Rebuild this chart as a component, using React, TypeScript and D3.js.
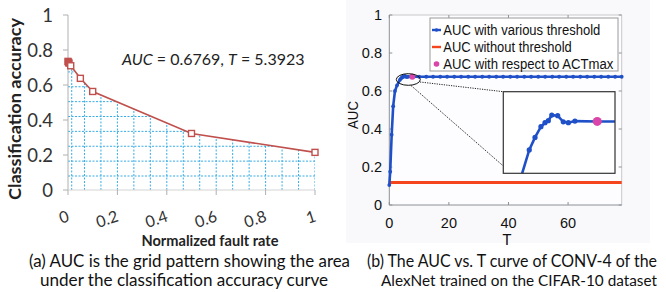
import React from "react";
import * as d3 from "d3";

// ---- panel (a): accuracy vs normalized fault rate ----
const faultRate = [0, 0.002, 0.004, 0.011, 0.05, 0.1, 0.5, 1];
const accuracy = [0.735, 0.73, 0.725, 0.71, 0.638, 0.563, 0.323, 0.215];
const accTicks = [0, 0.2, 0.4, 0.6, 0.8, 1];
const accTickLabels = ["0", "0.2", "0.4", "0.6", "0.8", "1"];
const faultTicks = [0, 0.2, 0.4, 0.6, 0.8, 1];
const faultTickLabels = ["0", "0.2", "0.4", "0.6", "0.8", "1"];

// ---- panel (b): AUC vs T ----
const tValues = [
  0, 0.3, 0.8, 1.3, 1.9, 2.6, 3.58, 3.93, 4.29, 4.54, 4.74, 4.95, 5.31, 5.65,
  5.96, 6.36, 7.72, 10, 12.4, 14.7, 17.1, 19.4, 21.8, 24.1, 26.5, 28.8, 31.2,
  33.5, 35.9, 38.2, 40.6, 42.9, 45.3, 47.6, 50, 52.3, 54.7, 57, 59.4, 61.7,
  64.1, 66.4, 68.8, 71.1, 73.5, 75.8, 78,
];
const aucValues = [
  0.105, 0.175, 0.37, 0.52, 0.6, 0.63, 0.6593, 0.6662, 0.6721, 0.6743, 0.6754,
  0.6785, 0.6782, 0.6748, 0.6743, 0.6752, 0.675, 0.675, 0.675, 0.675, 0.675,
  0.675, 0.675, 0.675, 0.675, 0.675, 0.675, 0.675, 0.675, 0.675, 0.675, 0.675,
  0.675, 0.675, 0.675, 0.675, 0.675, 0.675, 0.675, 0.675, 0.675, 0.675, 0.675,
  0.675, 0.675, 0.675, 0.675,
];
const aucNoThreshold = 0.118;
const actMaxT = 7.72;
const actMaxAuc = 0.675;
const aucTicks = [0, 0.2, 0.4, 0.6, 0.8, 1];
const aucTickLabels = ["0", "0.2", "0.4", "0.6", "0.8", "1"];
const tTicks = [0, 20, 40, 60];
const legendLabels = [
  "AUC with various threshold",
  "AUC without threshold",
  "AUC with respect to ACTmax",
];

const BLUE = "#1f50c8";
const RED = "#f4451f";
const MAGENTA = "#d945a8";
const ACC_RED = "#c0504d";
const GRID = "#35ade6";
const CALIBRI = "Lato, 'Open Sans', sans-serif";
const HELV = "'Liberation Sans', Arial, sans-serif";

function PanelA() {
  const x = d3.scaleLinear().domain([0, 1]).range([68, 315]);
  const y = d3.scaleLinear().domain([0, 1]).range([190, 15]);
  const pts = faultRate.map((f, i) => [f, accuracy[i]] as [number, number]);
  const line = d3
    .line<[number, number]>()
    .x((d) => x(d[0]))
    .y((d) => y(d[1]));
  const area = d3
    .area<[number, number]>()
    .x((d) => x(d[0]))
    .y0(y(0))
    .y1((d) => y(d[1]));
  const gridX = d3.range(1, 16).map((k) => k / 15);
  gridX.unshift(0.015);
  const gridY = d3.range(0.08, 0.7, 0.085);

  return (
    <g>
      <clipPath id="underCurve">
        <path d={area(pts) || ""} />
      </clipPath>
      <g clipPath="url(#underCurve)">
        {gridX.map((g) => (
          <line
            key={"gx" + g}
            x1={x(g)}
            x2={x(g)}
            y1={y(0)}
            y2={y(1)}
            stroke={GRID}
            strokeWidth={1}
            strokeDasharray="2,1.5"
          />
        ))}
        {gridY.map((g) => (
          <line
            key={"gy" + g}
            x1={x(0)}
            x2={x(1)}
            y1={y(g)}
            y2={y(g)}
            stroke={GRID}
            strokeWidth={1}
            strokeDasharray="2,1.5"
          />
        ))}
      </g>

      {/* axes */}
      <line x1={x(0)} x2={x(0)} y1={y(0)} y2={y(1)} stroke="#b0b0b0" />
      <line x1={x(0)} x2={x(1)} y1={y(0)} y2={y(0)} stroke="#d4d4d4" />
      {accTicks.map((t, i) => (
        <g key={"ya" + t}>
          <line x1={x(0) - 5} x2={x(0)} y1={y(t)} y2={y(t)} stroke="#b0b0b0" />
          <text
            x={53}
            y={y(t)}
            dy="0.36em"
            textAnchor="end"
            fontFamily={CALIBRI}
            fontSize={18.5}
            fill="#333"
          >
            {accTickLabels[i]}
          </text>
        </g>
      ))}
      {faultTicks.map((t, i) => (
        <g key={"xa" + t}>
          <line x1={x(t)} x2={x(t)} y1={y(0)} y2={y(0) + 5} stroke="#b0b0b0" />
          <text
            transform={`translate(${x(t) + 2},${221}) rotate(-18)`}
            textAnchor="end"
            fontFamily={CALIBRI}
            fontSize={16}
            fill="#333"
          >
            {faultTickLabels[i]}
          </text>
        </g>
      ))}

      <path d={line(pts) || ""} fill="none" stroke={ACC_RED} strokeWidth={1.6} />
      {pts.map((d, i) => (
        <rect
          key={"m" + i}
          x={x(d[0]) - 3}
          y={y(d[1]) - 3}
          width={6}
          height={6}
          fill={i < 3 ? ACC_RED : "#fff"}
          stroke={ACC_RED}
          strokeWidth={1.4}
        />
      ))}

      <text x={122} y={65} fontFamily={CALIBRI} fontSize={16} fill="#222">
        <tspan fontStyle="italic">AUC</tspan>
        <tspan> = 0.6769, </tspan>
        <tspan fontStyle="italic">T</tspan>
        <tspan> = 5.3923</tspan>
      </text>

      <text
        transform="translate(21,109) rotate(-90)"
        textAnchor="middle"
        fontFamily={CALIBRI}
        fontWeight="bold"
        fontSize={17}
        fill="#222"
        textLength={182}
        lengthAdjust="spacingAndGlyphs"
      >
        Classification accuracy
      </text>
      <text
        x={141.5}
        y={246}
        fontFamily={CALIBRI}
        fontWeight="bold"
        fontSize={14.5}
        fill="#222"
        textLength={137}
        lengthAdjust="spacingAndGlyphs"
      >
        Normalized fault rate
      </text>
    </g>
  );
}

function PanelB() {
  const x = d3.scaleLinear().domain([0, 78]).range([389.3, 621.7]);
  const y = d3.scaleLinear().domain([0, 1]).range([205, 15]);
  const pts = tValues.map((t, i) => [t, aucValues[i]] as [number, number]);
  const line = d3
    .line<[number, number]>()
    .x((d) => x(d[0]))
    .y((d) => y(d[1]));

  // inset zoom of the peak
  const ix = d3.scaleLinear().domain([2, 8.8]).range([503.3, 615]);
  const iy = d3.scaleLinear().domain([0.6464, 0.6914]).range([173.3, 91.7]);
  const insetLine = d3
    .line<[number, number]>()
    .x((d) => ix(d[0]))
    .y((d) => iy(d[1]));
  const insetPts = pts.filter((d) => d[0] >= 2.6 && d[0] <= 10);

  const [x0, x1] = x.range();
  const [y0, y1] = y.range();
  const legendRows = [30, 47, 64];

  return (
    <g>
      <rect x={346} y={0} width={304} height={243} fill="#f9f9fb" />
      <rect x={x0} y={y1} width={x1 - x0} height={y0 - y1} fill="#fdfdff" />
      {/* frame */}
      <line x1={x0} x2={x1} y1={y1} y2={y1} stroke="#c8c8cc" />
      <line x1={x1} x2={x1} y1={y1} y2={y0} stroke="#c8c8cc" />
      <line x1={x0} x2={x0} y1={y1} y2={y0} stroke="#8c9096" />
      <line x1={x0} x2={x1} y1={y0} y2={y0} stroke="#8c9096" />
      {aucTicks.map((t, i) => (
        <g key={"yb" + t}>
          <line x1={x0} x2={x0 + 3} y1={y(t)} y2={y(t)} stroke="#8c9096" />
          <line x1={x1 - 3} x2={x1} y1={y(t)} y2={y(t)} stroke="#8c9096" />
          <text
            x={382}
            y={y(t)}
            dy="0.36em"
            textAnchor="end"
            fontFamily={HELV}
            fontSize={14.5}
            fill="#111"
          >
            {aucTickLabels[i]}
          </text>
        </g>
      ))}
      {tTicks.map((t) => (
        <g key={"xb" + t}>
          <line x1={x(t)} x2={x(t)} y1={y0} y2={y0 - 3} stroke="#8c9096" />
          <line x1={x(t)} x2={x(t)} y1={y1} y2={y1 + 3} stroke="#8c9096" />
          <text
            x={x(t)}
            y={228}
            textAnchor="middle"
            fontFamily={HELV}
            fontSize={14.5}
            fill="#111"
          >
            {t}
          </text>
        </g>
      ))}
      <text
        transform="translate(358,115) rotate(-90)"
        textAnchor="middle"
        fontFamily={HELV}
        fontSize={15.5}
        fill="#111"
        textLength={28}
        lengthAdjust="spacingAndGlyphs"
      >
        AUC
      </text>
      <text
        x={507}
        y={245}
        textAnchor="middle"
        fontFamily={CALIBRI}
        fontSize={15}
        fill="#111"
      >
        T
      </text>

      {/* series */}
      <line
        x1={x(0)}
        x2={x(78)}
        y1={y(aucNoThreshold)}
        y2={y(aucNoThreshold)}
        stroke={RED}
        strokeWidth={3}
      />
      <path d={line(pts) || ""} fill="none" stroke={BLUE} strokeWidth={2.6} />
      {pts.map((d, i) => (
        <circle key={"p" + i} cx={x(d[0])} cy={y(d[1])} r={1.9} fill={BLUE} />
      ))}
      <circle cx={x(actMaxT)} cy={y(actMaxAuc)} r={3} fill={MAGENTA} />

      {/* zoom marker and connectors */}
      <ellipse
        cx={408.3}
        cy={79.5}
        rx={12}
        ry={5.8}
        fill="none"
        stroke="#111"
        strokeWidth={1}
      />
      <line x1={420} y1={82} x2={503.3} y2={91.7} stroke="#222" strokeDasharray="1.2,1.2" />
      <line x1={411} y1={85.5} x2={503.3} y2={166} stroke="#222" strokeDasharray="1.2,1.2" />

      {/* legend */}
      <rect x={430} y={18} width={188} height={53} fill="#fff" stroke="#9a9a9a" />
      {legendLabels.map((lab, i) => (
        <g key={lab}>
          {i < 2 && (
            <line
              x1={432}
              x2={441}
              y1={legendRows[i]}
              y2={legendRows[i]}
              stroke={i === 0 ? BLUE : RED}
              strokeWidth={2.4}
            />
          )}
          {i !== 1 && (
            <circle cx={436.5} cy={legendRows[i]} r={i === 0 ? 1.8 : 2.8} fill={i === 0 ? BLUE : MAGENTA} />
          )}
          <text
            x={443.3}
            y={legendRows[i]}
            dy="0.36em"
            fontFamily={HELV}
            fontSize={14}
            fill="#111"
            textLength={[157, 128.5, 170][i]}
            lengthAdjust="spacingAndGlyphs"
          >
            {lab}
          </text>
        </g>
      ))}

      {/* inset */}
      <clipPath id="insetClip">
        <rect x={503.3} y={91.7} width={111.7} height={81.6} />
      </clipPath>
      <rect x={503.3} y={91.7} width={111.7} height={81.6} fill="#fff" />
      <g clipPath="url(#insetClip)">
        <path d={insetLine(insetPts) || ""} fill="none" stroke={BLUE} strokeWidth={2.6} />
        {insetPts.map((d, i) => (
          <circle key={"ip" + i} cx={ix(d[0])} cy={iy(d[1])} r={2.6} fill={BLUE} />
        ))}
        <circle cx={ix(actMaxT)} cy={iy(actMaxAuc)} r={4.5} fill={MAGENTA} />
      </g>
      <rect
        x={503.3}
        y={91.7}
        width={111.7}
        height={81.6}
        fill="none"
        stroke="#333"
        strokeWidth={1.2}
      />
    </g>
  );
}

export default function App() {
  return (
    <svg
      width={666}
      height={292}
      style={{ position: "absolute", left: 0, top: 0, background: "#fff" }}
    >
      <PanelA />
      <PanelB />
      <g fontFamily={CALIBRI} fontSize={16.5} fill="#111">
        <text x={29} y={267} textLength={321} lengthAdjust="spacingAndGlyphs">
          (a) AUC is the grid pattern showing the area
        </text>
        <text x={40} y={286} textLength={288} lengthAdjust="spacingAndGlyphs">
          under the classification accuracy curve
        </text>
        <text x={367} y={267} textLength={290} lengthAdjust="spacingAndGlyphs">
          (b) The AUC vs. T curve of CONV-4 of the
        </text>
        <text
          x={381}
          y={286}
          fontSize={15.5}
          textLength={276}
          lengthAdjust="spacingAndGlyphs"
        >
          AlexNet trained on the CIFAR-10 dataset
        </text>
      </g>
    </svg>
  );
}
